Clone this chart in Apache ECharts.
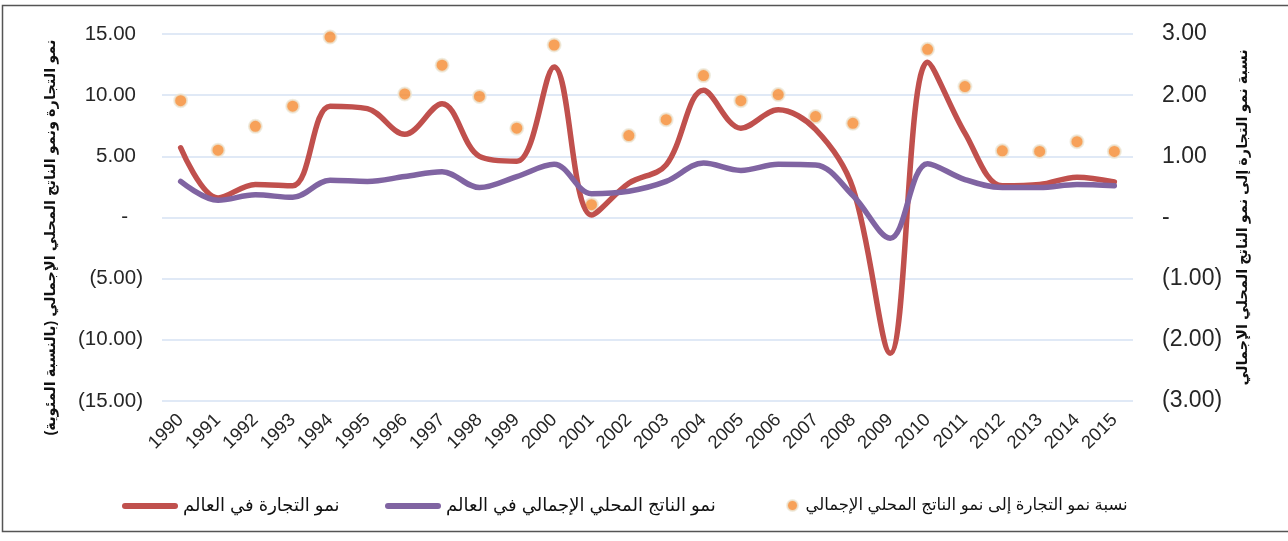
<!DOCTYPE html>
<html>
<head>
<meta charset="utf-8">
<script src="https://cdn.jsdelivr.net/npm/echarts@6/dist/echarts.min.js"></script>
<style>
  html, body { margin: 0; padding: 0; background: #fff; }
  #chart { width: 1288px; height: 541px; }
</style>
</head>
<body>
<div id="chart"></div>
<script>
const years = ['1990','1991','1992','1993','1994','1995','1996','1997','1998','1999','2000','2001','2002','2003','2004','2005','2006','2007','2008','2009','2010','2011','2012','2013','2014','2015'];
const tradeGrowth = [5.7, 1.6, 2.7, 2.6, 9.1, 8.9, 6.8, 9.3, 5.0, 4.6, 12.3, 0.2, 2.8, 4.3, 10.4, 7.3, 8.8, 7.2, 2.4, -11.1, 12.7, 6.9, 2.6, 2.7, 3.3, 2.9];
const gdpGrowth = [2.95, 1.4, 1.85, 1.65, 3.05, 2.95, 3.35, 3.75, 2.45, 3.35, 4.35, 1.95, 2.15, 2.95, 4.45, 3.85, 4.35, 4.3, 1.8, -1.7, 4.4, 3.1, 2.45, 2.45, 2.7, 2.6];
const ratio = [1.91, 1.10, 1.49, 1.82, 2.95, 3.05, 2.02, 2.49, 1.98, 1.46, 2.82, 0.21, 1.34, 1.60, 2.32, 1.91, 2.01, 1.65, 1.54, 6.50, 2.75, 2.14, 1.09, 1.08, 1.24, 1.08];

const nameTrade = 'نمو التجارة في العالم';
const nameGdp = 'نمو الناتج المحلي الإجمالي في العالم';
const nameRatio = 'نسبة نمو التجارة إلى نمو الناتج المحلي الإجمالي';
const leftAxisName = 'نمو التجارة ونمو الناتج المحلي الإجمالي (بالنسبة المئوية)';
const rightAxisName = 'نسبة نمو التجارة إلى نمو الناتج المحلي الإجمالي';

const FONT = 'Arial, "Liberation Sans", "DejaVu Sans", sans-serif';
const lineIcon = 'path://M3,0H53A3,3 0 0 1 53,6H3A3,3 0 0 1 3,0Z';

function leftFmt(v) {
  if (v === 0) return '{z|-}';
  if (v < 0) return '{n|(' + Math.abs(v).toFixed(2) + ')}';
  return '{p|' + v.toFixed(2) + '}';
}
function rightFmt(v) {
  if (v === 0) return '-';
  if (v < 0) return '(' + Math.abs(v).toFixed(2) + ')';
  return v.toFixed(2);
}

const chart = echarts.init(document.getElementById('chart'), null, { renderer: 'canvas' });
const legendText = { fontFamily: FONT, fontSize: 18, color: '#111' };
chart.setOption({
  animation: false,
  backgroundColor: '#fff',
  graphic: [{
    type: 'rect', silent: true, z: -10,
    shape: { x: 2.5, y: 5.5, width: 1290, height: 526 },
    style: { fill: null, stroke: '#555', lineWidth: 1.5 }
  }],
  grid: { left: 162, right: 155, top: 34, bottom: 140, containLabel: false, outerBoundsMode: 'none' },
  legend: [
    { left: 117, top: 492, itemWidth: 56, itemHeight: 10, textStyle: legendText,
      data: [{ name: nameTrade, icon: lineIcon }] },
    { left: 380, top: 492, itemWidth: 56, itemHeight: 10, textStyle: legendText,
      data: [{ name: nameGdp, icon: lineIcon }] },
    { left: 781, top: 492, itemWidth: 16, itemHeight: 11, textStyle: { fontFamily: FONT, fontSize: 16.5, color: '#111' },
      data: [{ name: nameRatio, icon: 'circle' }] }
  ],
  xAxis: {
    type: 'category',
    data: years,
    boundaryGap: true,
    axisLine: { show: false },
    axisTick: { show: false },
    axisLabel: { rotate: 45, margin: 16, fontFamily: FONT, fontSize: 18.5, color: '#262626', interval: 0 }
  },
  yAxis: [
    {
      type: 'value', min: -15, max: 15, interval: 5, position: 'left',
      name: leftAxisName, nameLocation: 'middle', nameGap: 104,
      nameTextStyle: { fontFamily: FONT, fontSize: 14.5, fontWeight: 'bold', color: '#111', padding: [0, 40, 0, 0] },
      axisLine: { show: false }, axisTick: { show: false },
      splitLine: { show: true, lineStyle: { color: '#D6E2F3', width: 1.5 } },
      axisLabel: {
        margin: 19, formatter: leftFmt,
        rich: {
          p: { fontFamily: FONT, fontSize: 20.5, color: '#262626', padding: [0, 7, 0, 0] },
          z: { fontFamily: FONT, fontSize: 20.5, color: '#262626', padding: [0, 15, 0, 0] },
          n: { fontFamily: FONT, fontSize: 20.5, color: '#262626' }
        }
      }
    },
    {
      type: 'value', min: -3, max: 3, interval: 1, position: 'right',
      name: rightAxisName, nameLocation: 'middle', nameGap: 102,
      nameTextStyle: { fontFamily: FONT, fontSize: 14.5, fontWeight: 'bold', color: '#111' },
      axisLine: { show: false }, axisTick: { show: false },
      splitLine: { show: false },
      axisLabel: { margin: 29, formatter: rightFmt, fontFamily: FONT, fontSize: 23, color: '#262626' }
    }
  ],
  series: [
    {
      name: nameTrade, type: 'line', yAxisIndex: 0, data: tradeGrowth,
      smooth: 0.35, showSymbol: false, symbol: 'none',
      lineStyle: { color: '#C0504D', width: 5.5, cap: 'round', join: 'round' },
      itemStyle: { color: '#C0504D' }
    },
    {
      name: nameGdp, type: 'line', yAxisIndex: 0, data: gdpGrowth,
      smooth: 0.35, showSymbol: false, symbol: 'none',
      lineStyle: { color: '#8064A2', width: 5.5, cap: 'round', join: 'round' },
      itemStyle: { color: '#8064A2' }
    },
    {
      name: nameRatio, type: 'scatter', yAxisIndex: 1, data: ratio, clip: true,
      symbol: 'circle', symbolSize: 13,
      itemStyle: { color: '#F5892F', borderColor: 'rgba(236,233,218,1)', borderWidth: 2 }
    }
  ]
});
</script>
</body>
</html>
